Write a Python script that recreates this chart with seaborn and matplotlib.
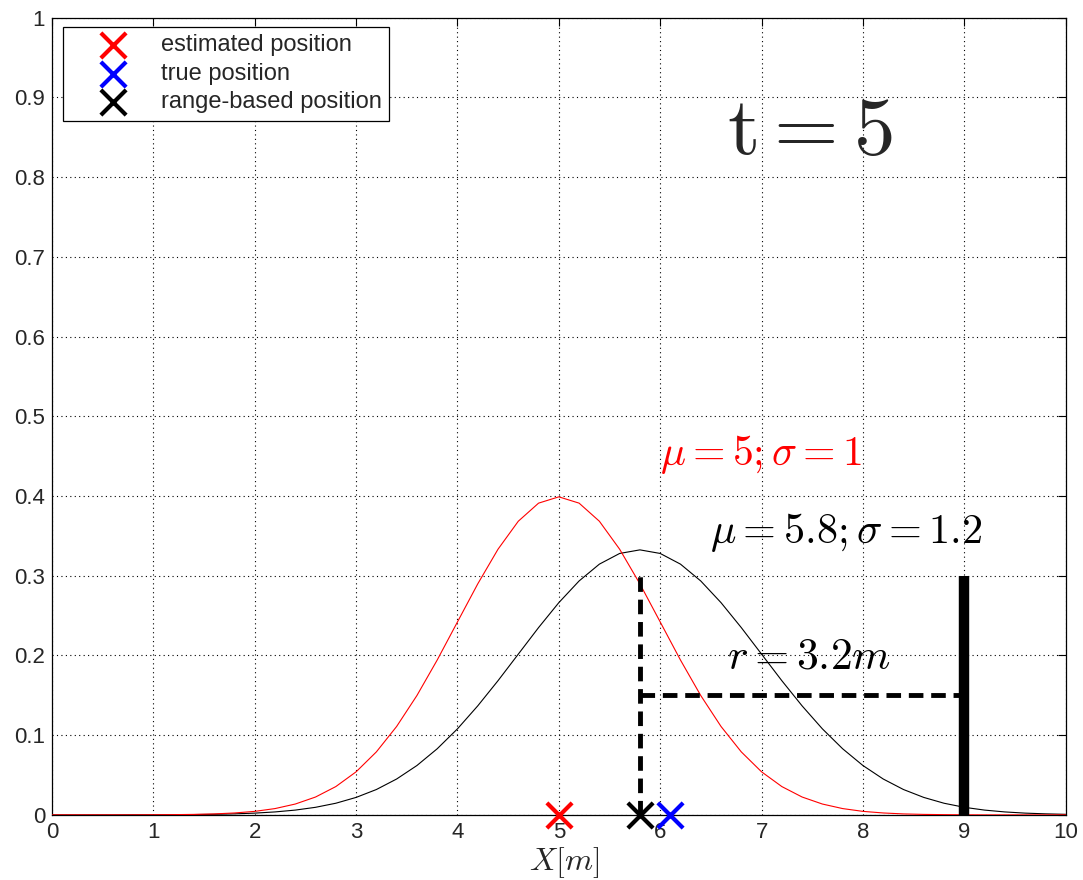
import numpy as np
import pandas as pd
import matplotlib
matplotlib.use("Agg")
import matplotlib.pyplot as plt
import seaborn as sns

# curve samples (x step 0.2 from 0 to 10)
x_grid = [round(0.2 * i, 1) for i in range(51)]
est_pdf = [0.0000, 0.0000, 0.0000, 0.0000, 0.0000, 0.0001, 0.0003, 0.0006, 0.0012, 0.0024,
           0.0044, 0.0079, 0.0136, 0.0224, 0.0355, 0.0540, 0.0790, 0.1109, 0.1497, 0.1942,
           0.2420, 0.2897, 0.3332, 0.3683, 0.3910, 0.3989, 0.3910, 0.3683, 0.3332, 0.2897,
           0.2420, 0.1942, 0.1497, 0.1109, 0.0790, 0.0540, 0.0355, 0.0224, 0.0136, 0.0079,
           0.0044, 0.0024, 0.0012, 0.0006, 0.0003, 0.0001, 0.0000, 0.0000, 0.0000, 0.0000,
           0.0000]
range_pdf = [0.0000, 0.0000, 0.0000, 0.0000, 0.0001, 0.0001, 0.0002, 0.0004, 0.0007, 0.0013,
             0.0022, 0.0037, 0.0060, 0.0095, 0.0146, 0.0219, 0.0318, 0.0450, 0.0619, 0.0829,
             0.1079, 0.1367, 0.1683, 0.2016, 0.2349, 0.2662, 0.2934, 0.3145, 0.3279, 0.3324,
             0.3279, 0.3145, 0.2934, 0.2662, 0.2349, 0.2016, 0.1683, 0.1367, 0.1079, 0.0829,
             0.0619, 0.0450, 0.0318, 0.0219, 0.0146, 0.0095, 0.0060, 0.0037, 0.0022, 0.0013,
             0.0007]

# positions on the x axis
est_pos = 5.0
true_pos = 6.1
range_pos = 5.8
anchor_x = 9.0
anchor_h = 0.3
range_y = 0.15

x_ticks = list(range(11))
y_ticks = [round(0.1 * i, 1) for i in range(11)]
y_labels = ["0", "0.1", "0.2", "0.3", "0.4", "0.5", "0.6", "0.7", "0.8", "0.9", "1"]

sns.set_style("white")
plt.rcParams["font.family"] = ["Liberation Sans", "DejaVu Sans"]
plt.rcParams["mathtext.fontset"] = "cm"

fig = plt.figure(figsize=(10.83, 8.8), dpi=100)
ax = fig.add_axes([0.048, 0.074, 0.936, 0.906])

df = pd.DataFrame({"x": x_grid, "est": est_pdf, "rng": range_pdf})
sns.lineplot(data=df, x="x", y="rng", color="black", linewidth=0.8, ax=ax, zorder=3)
sns.lineplot(data=df, x="x", y="est", color="red", linewidth=0.8, ax=ax, zorder=3)

# range construction lines
ax.plot([range_pos, range_pos], [0, anchor_h], color="black", lw=3.5,
        linestyle=(0, (3, 1.6)), zorder=4)
ax.plot([range_pos, anchor_x], [range_y, range_y], color="black", lw=3.5,
        linestyle=(0, (3, 1.6)), zorder=4)
ax.plot([anchor_x, anchor_x], [0, anchor_h], color="black", lw=7.5,
        solid_capstyle="butt", zorder=4)

mk = dict(marker="x", s=330, linewidth=3, clip_on=False, zorder=6, ax=ax)
sns.scatterplot(x=[est_pos], y=[0], color="red", label="estimated position", **mk)
sns.scatterplot(x=[true_pos], y=[0], color="blue", label="true position", **mk)
sns.scatterplot(x=[range_pos], y=[0], color="black", label="range-based position", **mk)

ax.text(6.66, 0.856, r"$\mathrm{t}=5$", fontsize=60, va="center", ha="left")
ax.text(6.0, 0.452, r"$\mu=5;\sigma=1$", color="red", fontsize=30,
        va="center", ha="left")
ax.text(6.49, 0.354, r"$\mu=5.8;\sigma=1.2$", color="black", fontsize=30.5,
        va="center", ha="left")
ax.text(6.66, 0.198, r"$r=3.2m$", color="black", fontsize=31.5,
        va="center", ha="left")

ax.set_xlim(0, 10)
ax.set_ylim(0, 1)
ax.set_xticks(x_ticks)
ax.set_yticks(y_ticks)
ax.set_yticklabels(y_labels)
ax.set_xlabel(r"$X[m]$", fontsize=23, labelpad=0)
ax.xaxis.set_label_coords(0.505, -0.038, transform=ax.transAxes)
ax.xaxis.label.set_va("top")
ax.set_ylabel("")
ax.tick_params(direction="in", length=6, width=0.8, top=True, right=True,
               labelsize=16, pad=5, color="black")
ax.grid(True, linestyle=(0, (1, 3)), color="black", linewidth=0.8)
for s in ax.spines.values():
    s.set_color("black")
    s.set_linewidth(0.9)

leg = ax.legend(loc="upper left", bbox_to_anchor=(0.011, 0.988), fontsize=17,
                frameon=True, fancybox=False, edgecolor="black", framealpha=1,
                borderpad=0.3, labelspacing=0.28, handletextpad=0.25,
                borderaxespad=0, handlelength=3.6)
leg.get_frame().set_linewidth(0.9)
for h in leg.legend_handles:
    h.set_sizes([330])

fig.savefig("out.png", dpi=100)
